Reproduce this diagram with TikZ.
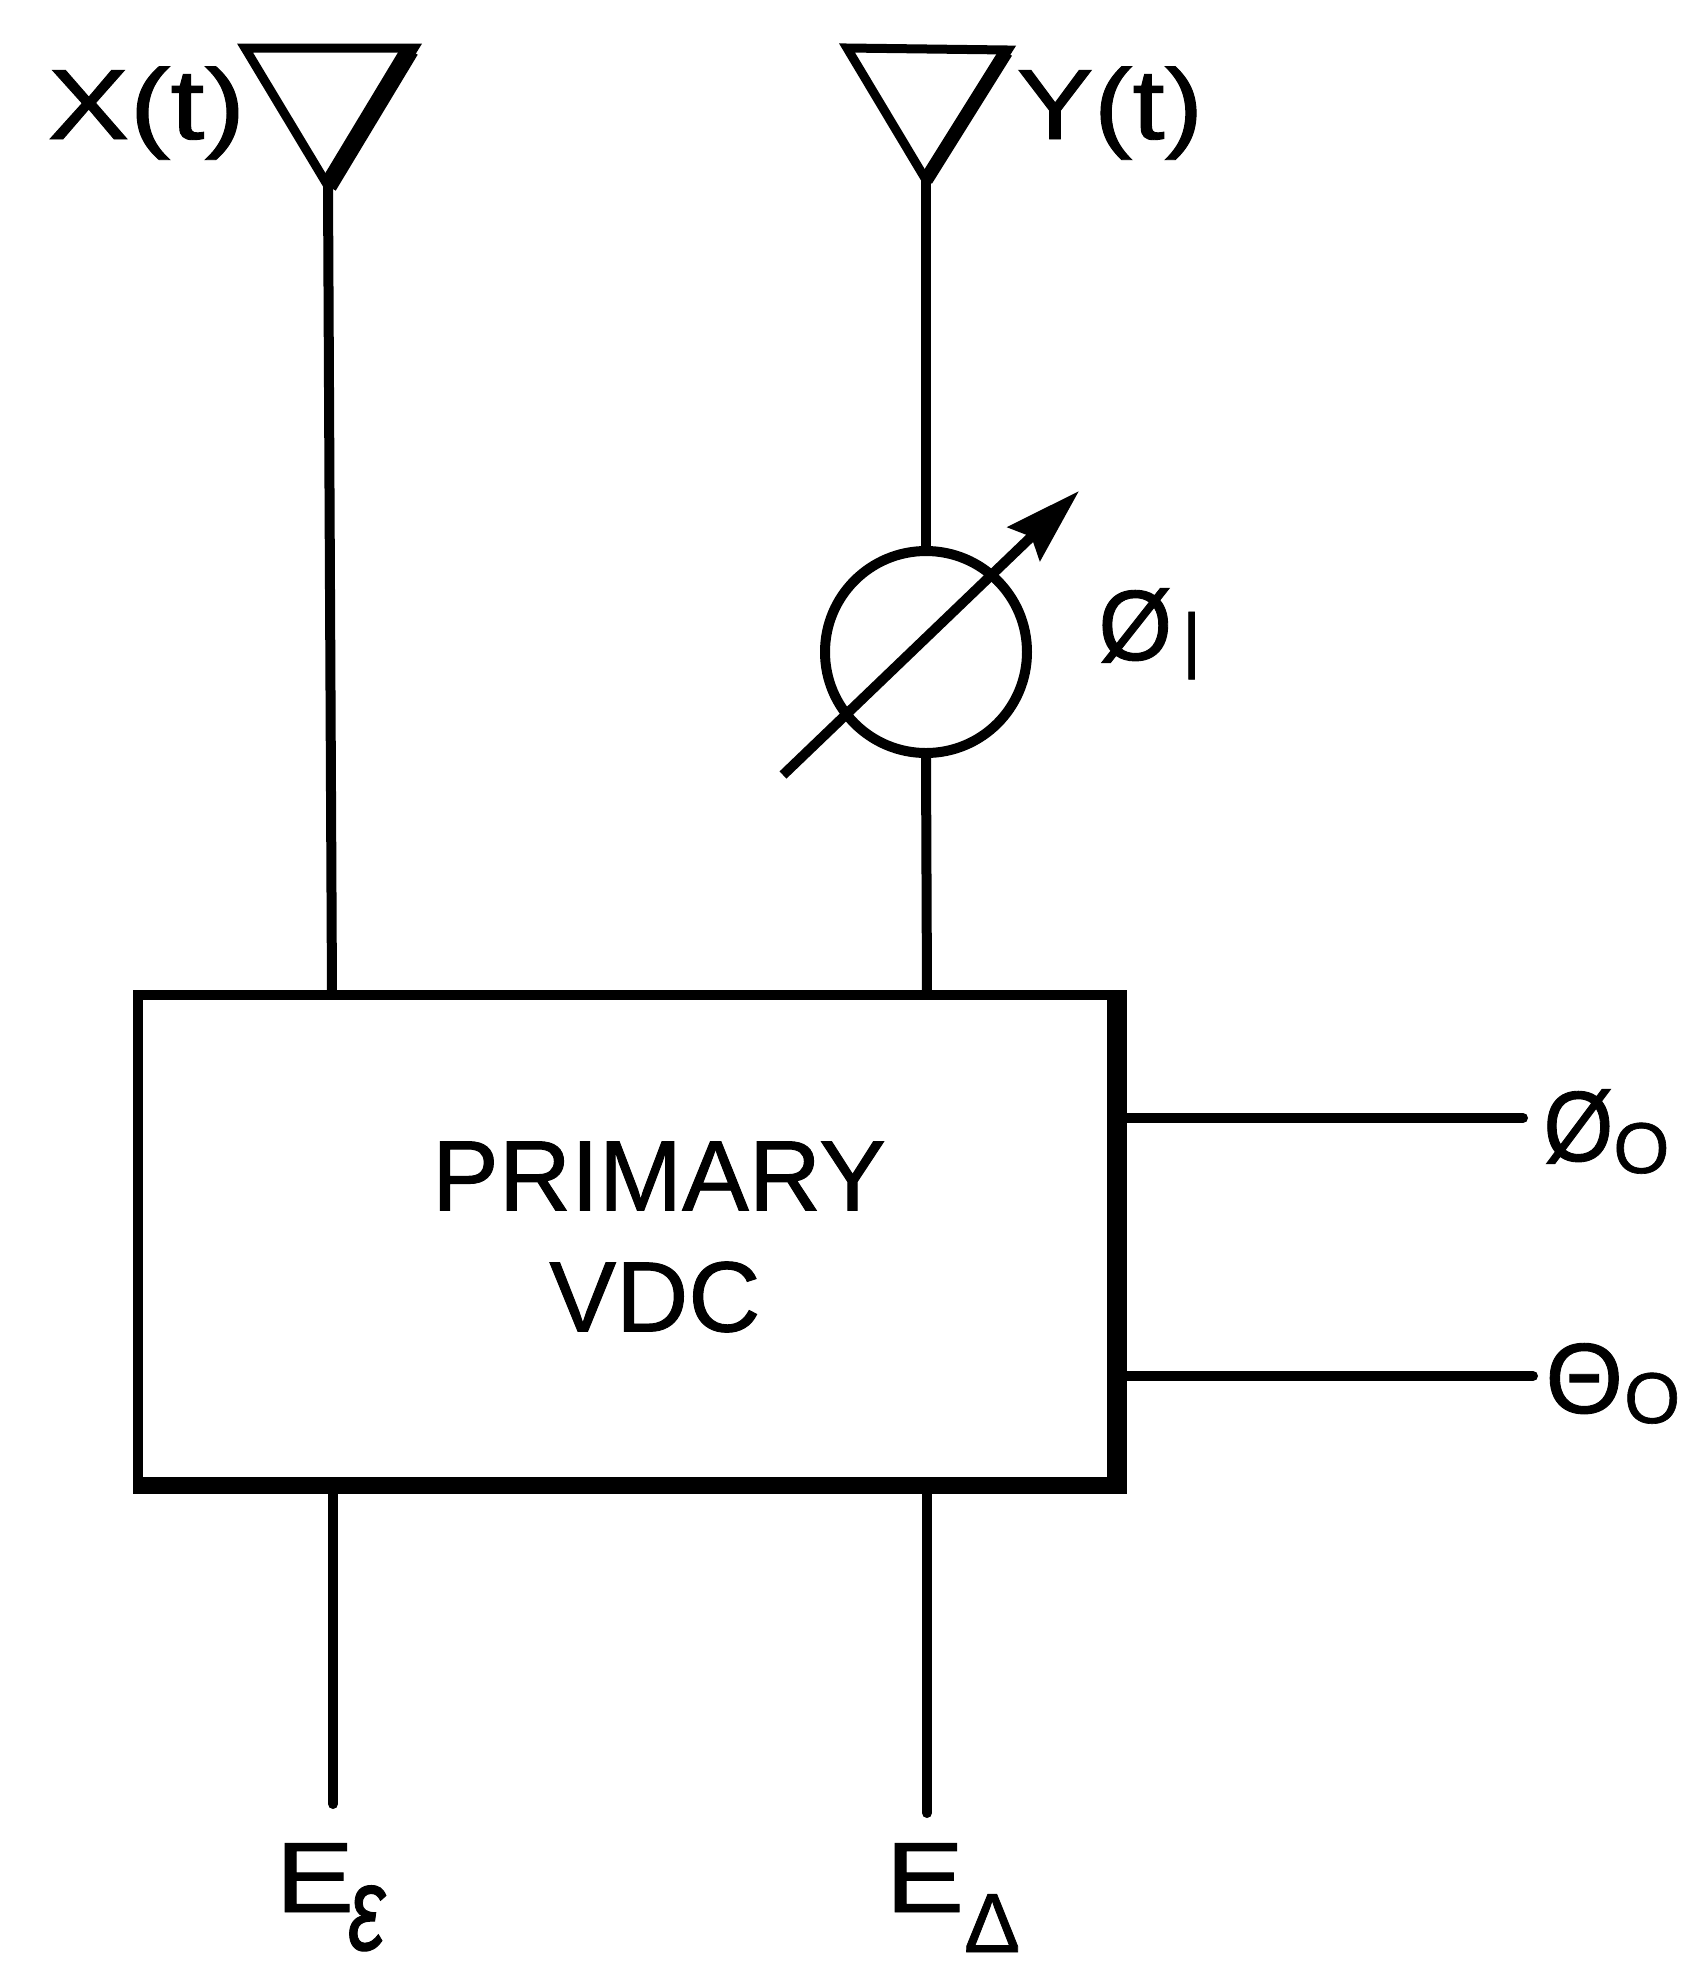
\documentclass[tikz,border=0pt]{standalone}
\usepackage{fontspec}
\setmainfont{Liberation Sans}[FakeBold=0.9]
\usepackage{graphicx}
\usetikzlibrary{arrows.meta}
\newcommand{\wideglyph}[2][1.2]{\scalebox{#1}[1]{#2}}
\newcommand{\smallsub}[1]{{\fontsize{36}{40}\selectfont #1}}
\tikzset{
  wire/.style={line width=5pt, line cap=round},
  antenna/.style={line width=4.5pt, line join=miter},
  lab/.style={inner sep=0pt, font=\fontsize{50}{60}\selectfont, text=black, anchor=base west},
  boxtext/.style={inner sep=0pt, font=\fontsize{50}{60}\selectfont, text=black}
}
\begin{document}
\begin{tikzpicture}[x=0.5pt,y=-0.5pt]
\useasboundingbox (0,0) rectangle (1688,1972);
% box
\node[draw, line width=5pt, minimum width=492pt, minimum height=247pt, inner sep=0pt, anchor=north west] (box) at (133,990) {};
\draw[line width=9pt] (1116,990) -- (1116,1492);
\draw[line width=8pt] (133,1485) -- (1125,1485);
\node[boxtext] (primary) at (659,1176) {PRIMARY};
\node[boxtext] (vdc) at (655,1297) {VDC};
% antennas
\coordinate (tipx) at (328,186);
\coordinate (tipy) at (926,180);
\draw[antenna] (245,48) -- (414,48) -- (tipx) -- cycle;
\draw[line width=9pt] (410,50) -- (tipx);
\draw[antenna] (847,48) -- (1008,50) -- (tipy) -- cycle;
\draw[line width=7pt] (1006,52) -- (tipy);
\node[lab] (xt) at (47,139) {\wideglyph[1.23]{X(t)}};
\node[lab] (yt) at (1016,139) {\wideglyph[1.16]{Y(t)}};
% phase shifter
\node[draw, circle, line width=5pt, minimum size=101pt, inner sep=0pt] (phase) at (926,652) {};
\coordinate (as) at (783,775);
\coordinate (ae) at (1079,491);
\draw[line width=5pt, -{Stealth[length=38pt,width=23pt,inset=5pt]}] (as) -- (ae);
\node[lab] (phi1) at (1098,660) {\wideglyph[0.95]{Ø}\kern 5pt\raisebox{-2pt}{\fontsize{36}{40}\selectfont|}};
% wires
\draw[wire] (tipx) -- (332,994);
\draw[wire] (tipy) -- (phase.north);
\draw[wire] (phase.south) -- (927,994);
\coordinate (eps) at (333,1804);
\coordinate (del) at (927,1813);
\draw[wire] (333,1490) -- (eps);
\draw[wire] (927,1490) -- (del);
\coordinate (ph) at (1523,1118);
\coordinate (th) at (1533,1376);
\draw[wire] (1126,1118) -- (ph);
\draw[wire] (1126,1376) -- (th);
% labels
\node[lab] (phi0) at (1543,1161) {\wideglyph[0.9]{Ø}\raisebox{-6pt}{\smallsub{O}}};
\node[lab] (th0) at (1545,1413) {Θ\kern 0.5pt\raisebox{-5pt}{\smallsub{O}}};
\node[lab] (ee) at (275,1912) {\wideglyph[1.18]{E}\kern -3pt\raisebox{-19pt}{\fontsize{60}{70}\selectfont\wideglyph[0.7]{\itshape ε}}};
\node[lab] (ed) at (885,1912) {\wideglyph[1.18]{E}\raisebox{-20pt}{\fontsize{42}{50}\selectfont Δ}};
\end{tikzpicture}
\end{document}
